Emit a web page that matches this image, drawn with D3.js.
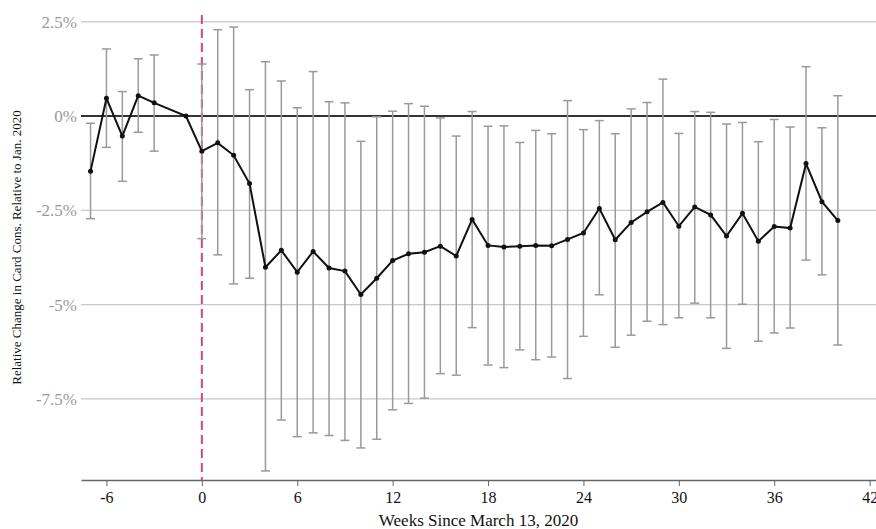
<!DOCTYPE html>
<html>
<head>
<meta charset="utf-8">
<script src="https://cdn.jsdelivr.net/npm/d3@7"></script>
<style>
  body { margin: 0; background: #fff; }
  svg { display: block; }
  svg text { font-family: "Liberation Serif", "DejaVu Serif", serif; }
</style>
</head>
<body>
<svg id="chart"></svg>
<script>
// weekly estimates relative to the week before March 13, 2020 (in %)
const weeks = [-7, -6, -5, -4, -3, -1, 0, 1, 2, 3, 4, 5, 6, 7, 8, 9, 10, 11, 12, 13, 14, 15, 16, 17, 18, 19, 20,
  21, 22, 23, 24, 25, 26, 27, 28, 29, 30, 31, 32, 33, 34, 35, 36, 37, 38, 39, 40];
const estimate = [-1.46, 0.47, -0.53, 0.54, 0.35, 0, -0.93, -0.71, -1.04, -1.79, -4.01, -3.56, -4.14, -3.59, -4.03, -4.11, -4.73,
  -4.30, -3.83, -3.65, -3.61, -3.45, -3.71, -2.74, -3.43, -3.47, -3.45, -3.43, -3.44, -3.27, -3.10, -2.45, -3.28,
  -2.82, -2.54, -2.29, -2.92, -2.41, -2.62, -3.18, -2.58, -3.32, -2.93, -2.97, -1.26, -2.27, -2.77];
const ciLow = [-2.72, -0.83, -1.73, -0.43, -0.93, null, -3.25, -3.68, -4.45, -4.30, -9.41, -8.06, -8.50, -8.40, -8.47, -8.60, -8.80,
  -8.57, -7.79, -7.62, -7.48, -6.83, -6.87, -5.61, -6.60, -6.67, -6.20, -6.46, -6.39, -6.96, -5.84, -4.74, -6.13,
  -5.81, -5.44, -5.53, -5.35, -4.96, -5.35, -6.16, -4.99, -5.97, -5.75, -5.62, -3.82, -4.21, -6.07];
const ciHigh = [-0.19, 1.78, 0.65, 1.52, 1.62, null, 1.38, 2.29, 2.36, 0.70, 1.44, 0.93, 0.22, 1.18, 0.38, 0.35, -0.67,
  -0.02, 0.13, 0.33, 0.26, -0.05, -0.53, 0.12, -0.27, -0.26, -0.70, -0.38, -0.47, 0.41, -0.36, -0.12, -0.47,
  0.19, 0.36, 0.98, -0.46, 0.12, 0.10, -0.21, -0.17, -0.68, -0.09, -0.29, 1.31, -0.31, 0.54];
const xTicks = [-6, 0, 6, 12, 18, 24, 30, 36, 42];
const yTicks = [2.5, 0, -2.5, -5, -7.5];

const width = 876, height = 529;
const margin = { top: 15, right: 0, bottom: 49, left: 81 };

const svg = d3.select("#chart").attr("width", width).attr("height", height);

const x = d3.scaleLinear().domain([-7.6, 42.4]).range([margin.left, width - margin.right]);
const y = d3.scaleLinear().domain([-9.65, 2.68]).range([height - margin.bottom, margin.top]);

const data = weeks.map((w, i) => ({ w: w, v: estimate[i], lo: ciLow[i], hi: ciHigh[i] }));

// plain hyphen for negatives, like the original
const num = d => String(d);

// horizontal grid
svg.append("g")
  .selectAll("line")
  .data(yTicks.filter(t => t !== 0))
  .join("line")
  .attr("x1", margin.left).attr("x2", width - margin.right)
  .attr("y1", d => y(d)).attr("y2", d => y(d))
  .attr("stroke", "#c8c8c8").attr("stroke-width", 1.2);

// y axis labels
svg.append("g")
  .attr("transform", "translate(" + (margin.left - 4) + ",0)")
  .call(d3.axisLeft(y).tickValues(yTicks).tickSize(0).tickPadding(0)
    .tickFormat(d => num(d) + "%"))
  .attr("font-family", null).attr("font-size", null)
  .call(g => g.select(".domain").remove())
  .call(g => g.selectAll("text")
    .attr("fill", "#9a9a9a").attr("font-size", 17));

// zero line
svg.append("line")
  .attr("x1", margin.left).attr("x2", width - margin.right)
  .attr("y1", y(0)).attr("y2", y(0))
  .attr("stroke", "#333").attr("stroke-width", 2);

// bottom axis
svg.append("g")
  .attr("transform", "translate(0," + (height - margin.bottom) + ")")
  .call(d3.axisBottom(x).tickValues(xTicks).tickSize(6).tickPadding(6).tickSizeOuter(0).tickFormat(num))
  .attr("font-family", null).attr("font-size", null)
  .call(g => g.select(".domain").attr("stroke", "#666").attr("stroke-width", 1.5))
  .call(g => g.selectAll(".tick line").attr("stroke", "#666"))
  .call(g => g.selectAll("text")
    .attr("fill", "#111").attr("font-size", 16));

// event marker
svg.append("line")
  .attr("x1", x(0)).attr("x2", x(0))
  .attr("y1", margin.top).attr("y2", height - margin.bottom)
  .attr("stroke", "#d6457a").attr("stroke-width", 2)
  .attr("stroke-dasharray", "9,5");

// error bars
const eb = svg.append("g").attr("stroke", "#9a9a9a").attr("stroke-width", 1.5);
const withCi = data.filter(d => d.lo !== null);
eb.selectAll("line.v").data(withCi).join("line").attr("class", "v")
  .attr("x1", d => x(d.w)).attr("x2", d => x(d.w))
  .attr("y1", d => y(d.hi)).attr("y2", d => y(d.lo));
eb.selectAll("line.t").data(withCi).join("line").attr("class", "t")
  .attr("x1", d => x(d.w) - 4.5).attr("x2", d => x(d.w) + 4.5)
  .attr("y1", d => y(d.hi)).attr("y2", d => y(d.hi));
eb.selectAll("line.b").data(withCi).join("line").attr("class", "b")
  .attr("x1", d => x(d.w) - 4.5).attr("x2", d => x(d.w) + 4.5)
  .attr("y1", d => y(d.lo)).attr("y2", d => y(d.lo));

// estimate line and points
svg.append("path")
  .datum(data)
  .attr("fill", "none").attr("stroke", "#111").attr("stroke-width", 2)
  .attr("d", d3.line().x(d => x(d.w)).y(d => y(d.v)));

svg.append("g").attr("fill", "#111")
  .selectAll("circle").data(data).join("circle")
  .attr("cx", d => x(d.w)).attr("cy", d => y(d.v)).attr("r", 2.5);

// axis titles
svg.append("text")
  .attr("x", (margin.left + width - margin.right) / 2).attr("y", 526)
  .attr("text-anchor", "middle").attr("font-size", 17).attr("fill", "#111")
  .text("Weeks Since March 13, 2020");

svg.append("text")
  .attr("transform", "translate(21," + ((margin.top + height - margin.bottom) / 2) + ") rotate(-90)")
  .attr("text-anchor", "middle").attr("font-size", 13).attr("fill", "#111")
  .text("Relative Change in Card Cons. Relative to Jan. 2020");
</script>
</body>
</html>
